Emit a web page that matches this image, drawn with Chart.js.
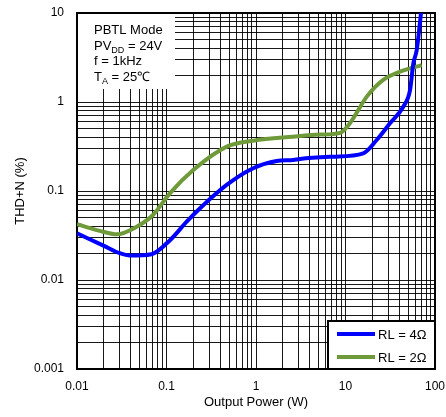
<!DOCTYPE html>
<html>
<head>
<meta charset="utf-8">
<script src="https://cdn.jsdelivr.net/npm/chart.js@4/dist/chart.umd.min.js"></script>
<style>
  html, body { margin: 0; padding: 0; background: #fff; }
  #wrap { width: 446px; height: 417px; }
</style>
</head>
<body>
<div id="wrap"><canvas id="thd-chart"></canvas></div>
<script>
// THD+N vs output power, PBTL mode

const xTickLabels = ['0.01', '0.1', '1', '10', '100'];
const yTickLabels = ['0.001', '0.01', '0.1', '1', '10'];

const seriesLabels = ['RL = 4Ω', 'RL = 2Ω'];
const seriesColors = ['#0000ff', '#6f9a3a'];

// RL = 4 ohm
const power4 = [0.01, 0.02, 0.03, 0.039, 0.068, 0.11, 0.168, 0.237, 0.47, 0.93, 1.7, 2.6, 3.1, 7.2, 15.8, 22.3, 31.4, 44.2, 52.6, 57.3, 62.5, 69.8];
const thd4 = [0.0335, 0.0242, 0.020, 0.0188, 0.0195, 0.0282, 0.0452, 0.064, 0.117, 0.180, 0.217, 0.223, 0.229, 0.243, 0.265, 0.374, 0.577, 0.886, 1.36, 2.72, 3.84, 10];

// RL = 2 ohm
const power2 = [0.01, 0.0195, 0.0278, 0.0465, 0.0706, 0.109, 0.199, 0.471, 0.933, 2.59, 5.2, 8.7, 11.2, 17.3, 26.4, 40.6, 71];
const thd2 = [0.0423, 0.0349, 0.0326, 0.0397, 0.0537, 0.0942, 0.172, 0.315, 0.367, 0.407, 0.43, 0.45, 0.577, 1.15, 1.77, 2.19, 2.60];

const noteLines = [
    [['PBTL Mode', false]],
    [['PV', false], ['DD', true], [' = 24V', false]],
    [['f = 1kHz', false]],
    [['T', false], ['A', true], [' = 25℃', false]],
];

const FONT = "'Liberation Sans', Arial, sans-serif";

function toPoints(xs, ys) {
    return xs.map((x, i) => ({ x: x, y: ys[i] }));
}

// every 1..9 step of each decade, labels only on the decades
function decadeTicks(labels) {
    const ticks = [];
    labels.forEach((lab, i) => {
        const base = Number(lab);
        if (i === labels.length - 1) {
            ticks.push({ value: base });
            return;
        }
        for (let m = 1; m <= 9; m++) ticks.push({ value: base * m });
    });
    return ticks;
}

function labelFor(labels, v) {
    const hit = labels.find(l => Math.abs(Number(l) / v - 1) < 1e-6);
    return hit || '';
}

// --- plugins ---

const notePlugin = {
    id: 'note',
    beforeDatasetsDraw(chart) {
        const { ctx, chartArea: ca } = chart;
        ctx.save();
        ctx.fillStyle = '#fff';
        ctx.fillRect(ca.left + 1, ca.top + 1, 97, 75);

        ctx.fillStyle = '#000';
        ctx.textBaseline = 'alphabetic';
        let y = ca.top + 21;
        noteLines.forEach(parts => {
            let x = ca.left + 17;
            parts.forEach(([txt, sub]) => {
                ctx.font = (sub ? '9px ' : '13px ') + FONT;
                ctx.fillText(txt, x, sub ? y + 3 : y);
                x += ctx.measureText(txt).width;
            });
            y += 15.5;
        });

        // frame
        ctx.strokeStyle = '#000';
        ctx.lineWidth = 2;
        ctx.strokeRect(ca.left, ca.top, ca.right - ca.left, ca.bottom - ca.top);
        ctx.restore();
    },
};

const boxLegend = {
    id: 'boxLegend',
    afterDatasetsDraw(chart) {
        const { ctx, chartArea: ca } = chart;
        const w = 107, h = 48;
        const left = ca.right - w, top = ca.bottom - h;
        ctx.save();
        ctx.fillStyle = '#fff';
        ctx.fillRect(left, top, w, h);
        ctx.strokeStyle = '#000';
        ctx.lineWidth = 2;
        ctx.strokeRect(left, top, w, h);

        ctx.font = '13px ' + FONT;
        ctx.textBaseline = 'middle';
        chart.data.datasets.forEach((ds, i) => {
            const y = top + 13 + i * 23;
            ctx.strokeStyle = ds.borderColor;
            ctx.lineWidth = 4;
            ctx.beginPath();
            ctx.moveTo(left + 9, y);
            ctx.lineTo(left + 47, y);
            ctx.stroke();
            ctx.fillStyle = '#000';
            ctx.fillText(ds.label, left + 50, y + 1);
        });
        ctx.restore();
    },
};

// --- chart ---

const gridOpts = { color: 'rgba(0,0,0,0.9)', lineWidth: 1, drawTicks: false };

new Chart(document.getElementById('thd-chart'), {
    type: 'line',
    data: {
        datasets: [
            {
                label: seriesLabels[0],
                data: toPoints(power4, thd4),
                borderColor: seriesColors[0],
                borderWidth: 4,
                pointRadius: 0,
                cubicInterpolationMode: 'monotone',
            },
            {
                label: seriesLabels[1],
                data: toPoints(power2, thd2),
                borderColor: seriesColors[1],
                borderWidth: 4,
                pointRadius: 0,
                cubicInterpolationMode: 'monotone',
            },
        ],
    },
    options: {
        responsive: true,
        maintainAspectRatio: false,
        animation: false,
        layout: { padding: { top: 13, right: 11, left: 0, bottom: 0 } },
        plugins: {
            legend: { display: false },
            tooltip: { enabled: false },
        },
        scales: {
            x: {
                type: 'logarithmic',
                min: Number(xTickLabels[0]),
                max: Number(xTickLabels[xTickLabels.length - 1]),
                grid: gridOpts,
                border: { display: true, color: '#000', width: 2 },
                afterBuildTicks: s => { s.ticks = decadeTicks(xTickLabels); },
                afterFit: s => {
                    s.height = 48;
                    s.paddingLeft = 0;
                    s.paddingRight = 0;
                },
                ticks: {
                    autoSkip: false,
                    maxRotation: 0,
                    padding: 10,
                    color: '#000',
                    font: { family: FONT, size: 12 },
                    callback: v => labelFor(xTickLabels, v),
                },
                title: {
                    display: true,
                    text: 'Output Power (W)',
                    color: '#000',
                    font: { family: FONT, size: 13 },
                    padding: { top: 0, bottom: 7 },
                },
            },
            y: {
                type: 'logarithmic',
                min: Number(yTickLabels[0]),
                max: Number(yTickLabels[yTickLabels.length - 1]),
                grid: gridOpts,
                border: { display: true, color: '#000', width: 2 },
                afterBuildTicks: s => { s.ticks = decadeTicks(yTickLabels); },
                afterFit: s => {
                    s.width = 77;
                    s.paddingTop = 0;
                    s.paddingBottom = 0;
                },
                ticks: {
                    autoSkip: false,
                    padding: 13,
                    color: '#000',
                    font: { family: FONT, size: 12 },
                    callback: v => labelFor(yTickLabels, v),
                },
                title: {
                    display: true,
                    text: 'THD+N (%)',
                    color: '#000',
                    font: { family: FONT, size: 13 },
                    padding: { top: 13, bottom: 0 },
                },
            },
        },
    },
    plugins: [notePlugin, boxLegend],
});
</script>
</body>
</html>
